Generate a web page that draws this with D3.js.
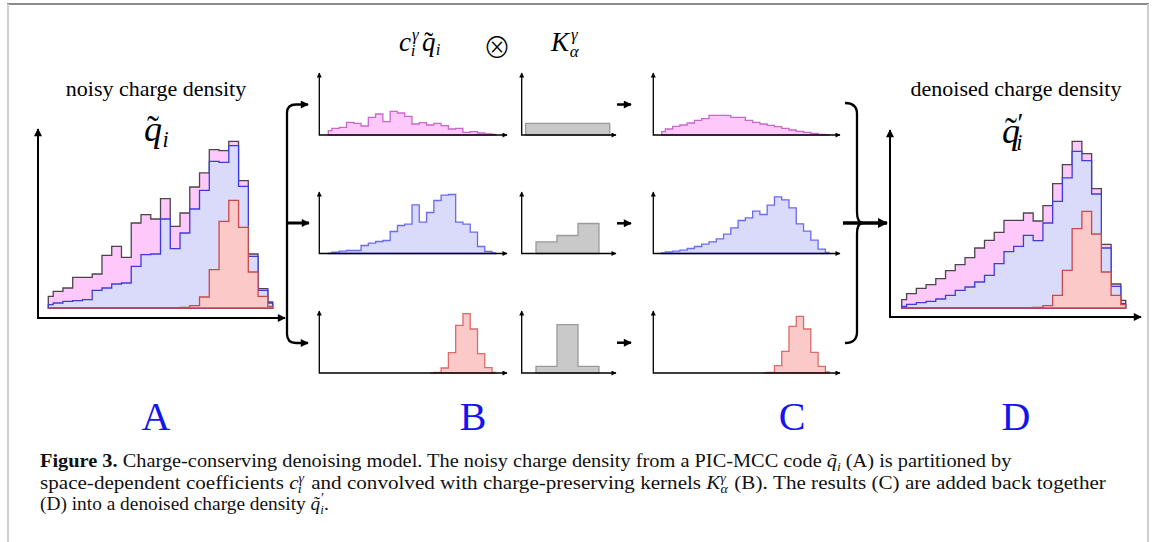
<!DOCTYPE html>
<html>
<head>
<meta charset="utf-8">
<script src="https://cdn.jsdelivr.net/npm/d3@7"></script>
<style>
  body { margin: 0; background: #fff; }
  svg { display: block; }
</style>
</head>
<body>
<div id="area"></div>
<script>
// bin index of every histogram (24 cells, the first and last are half cells)
const bins = d3.range(24);

// A: noisy charge density, stacked partition (total / blue+red / red)
const aTotal = [35, 50, 60, 92, 92, 102, 158, 185, 152, 255, 280, 267, 328, 245, 285, 363, 405, 475, 472, 500, 382, 162, 58, 18];
const aBlue  = [10, 15, 20, 22, 25, 53, 60, 72, 75, 125, 160, 162, 267, 178, 225, 297, 353, 440, 437, 487, 365, 155, 53, 15];
const aRed   = [0, 0, 0, 0, 0, 0, 0, 0, 0, 0, 0, 0, 0, 0, 2, 7, 33, 115, 260, 323, 242, 108, 35, 5];

// B: c_i^gamma * q_i for the three coefficients
const bPink = [13, 20, 23, 38, 35, 27, 53, 63, 40, 71, 66, 56, 33, 37, 30, 35, 28, 18, 20, 8, 10, 6, 3, 2];
const bBlue = [1, 4, 7, 9, 9, 24, 31, 36, 39, 66, 84, 88, 146, 94, 123, 159, 175, 177, 94, 88, 64, 21, 6, 2];
const bRed  = [null, null, null, null, null, null, null, null, null, null, null, null, null, null, 0, 2, 15, 61, 143, 178, 132, 58, 16, 2];

// kernels K_alpha^gamma
const kernelStart = [0.19, 0.68, 0.68];
const kTop = [35, 35, 35, 35];
const kMid = [35, 54, 90];
const kBot = [20, 145, 20];

// C: smoothed parts
const cPink = [10, 18, 26, 30, 36, 44, 49, 59, 59, 59, 53, 53, 44, 38, 33, 29, 25, 20, 15, 11, 8, 5, 2, 1];
const cBlue = [2, 5, 7, 10, 15, 21, 28, 35, 44, 58, 77, 99, 107, 127, 117, 145, 170, 161, 137, 89, 67, 40, 13, 3];
const cRed  = [null, null, null, null, null, null, null, null, null, null, null, null, null, null, 0, 2, 22, 65, 140, 170, 132, 62, 20, 3];

// D: denoised charge density
const dTotal = [25, 43, 59, 70, 88, 112, 130, 151, 180, 203, 227, 263, 263, 285, 261, 307, 373, 430, 500, 463, 358, 191, 72, 23];
const dBlue  = [5, 11, 16, 20, 27, 38, 53, 63, 78, 98, 133, 169, 185, 218, 202, 255, 320, 390, 470, 442, 342, 180, 65, 13];
const dRed   = [0, 0, 0, 0, 0, 0, 0, 0, 0, 0, 0, 0, 0, 0, 2, 7, 38, 113, 238, 290, 222, 108, 38, 10];

const panelLetters = ['A', 'B', 'C', 'D'];

const width = 1167, height = 542;
const pink = { fill: '#ffc8fb', stroke: '#c868c8' },
      blue = { fill: '#dadafb', stroke: '#6a6af2' },
      red  = { fill: '#fcc9c9', stroke: '#dc6a6a' },
      grey = { fill: '#c9c9c9', stroke: '#9a9a9a' };
const serif = "'Liberation Serif', 'DejaVu Serif', serif";

const svg = d3.select('#area').append('svg')
    .attr('width', width)
    .attr('height', height);

// arrow heads
const defs = svg.append('defs');
function marker(id, w, h) {
    defs.append('marker')
        .attr('id', id)
        .attr('viewBox', '0 0 10 10')
        .attr('refX', 9).attr('refY', 5)
        .attr('markerWidth', w).attr('markerHeight', h)
        .attr('markerUnits', 'userSpaceOnUse')
        .attr('orient', 'auto-start-reverse')
        .append('path').attr('d', 'M0,0 L10,5 L0,10 z').attr('fill', '#000');
}
marker('ahS', 6, 5);
marker('ahM', 9, 8);
marker('ahL', 11, 10);

// frame of the figure box
svg.append('line').attr('x1', 7).attr('x2', 1149).attr('y1', 4).attr('y2', 4)
    .attr('stroke', '#8c8c8c').attr('stroke-width', 2);
svg.append('line').attr('x1', 8).attr('x2', 8).attr('y1', 4).attr('y2', height)
    .attr('stroke', '#cfcfcf').attr('stroke-width', 2);
svg.append('line').attr('x1', 1148).attr('x2', 1148).attr('y1', 4).attr('y2', height)
    .attr('stroke', '#cfcfcf').attr('stroke-width', 2);

function axes(ax, ay, xEnd, yTop, sw, mk) {
    svg.append('path')
        .attr('d', `M${ax},${yTop} L${ax},${ay} L${xEnd},${ay}`)
        .attr('fill', 'none').attr('stroke', '#000').attr('stroke-width', sw)
        .attr('marker-start', `url(#${mk})`).attr('marker-end', `url(#${mk})`);
}

function hist(x, y, vals, c, sw, strokeOverride, opacity) {
    const area = d3.area()
        .defined(d => d != null)
        .curve(d3.curveStep)
        .x((d, i) => x(i))
        .y0(y(0))
        .y1(d => y(d));
    svg.append('path')
        .attr('d', area(vals))
        .attr('fill', c.fill)
        .attr('stroke', strokeOverride || c.stroke)
        .attr('stroke-opacity', opacity || 1)
        .attr('stroke-width', sw);
}

// ---- big panels A and D
function bigPanel(p, total, bl, rd) {
    const x = d3.scaleLinear().domain([0, 23]).range([p.x0, p.x1]);
    const y = d3.scaleLinear().domain([0, 500]).range([p.base, p.base - 166.7]);
    hist(x, y, total, pink, 1.3, '#2a2a2a', 0.85);
    hist(x, y, bl, blue, 1.3, '#3c3cdc');
    hist(x, y, rd, red, 1.3, '#c94848');
    axes(p.ax, p.ay, p.xEnd, p.yTop, 2, 'ahM');
}
bigPanel({ x0: 48.3, x1: 272.7, base: 308, ax: 38, ay: 318, xEnd: 285, yTop: 129 }, aTotal, aBlue, aRed);
bigPanel({ x0: 901.7, x1: 1125.7, base: 308, ax: 890, ay: 317, xEnd: 1141, yTop: 130 }, dTotal, dBlue, dRed);

// ---- small panels B, kernels, C
const rowBase = [135, 253.5, 373];
const rowTop = [73, 192, 311];
const colours = [pink, blue, red];

function smallRow(x0, x1, ax, xEnd, series) {
    const x = d3.scaleLinear().domain([0, 23]).range([x0, x1]);
    series.forEach((vals, r) => {
        const y = d3.scaleLinear().domain([0, 180]).range([rowBase[r], rowBase[r] - 60]);
        hist(x, y, vals, colours[r], 1.3);
        axes(ax, rowBase[r], xEnd, rowTop[r], 1.3, 'ahS');
    });
}
smallRow(328.3, 495.7, 319.3, 507, [bPink, bBlue, bRed]);
smallRow(661.7, 829, 653.3, 840, [cPink, cBlue, cRed]);

const kx = d3.scaleLinear().domain([0, 4.5]).range([521.7, 521.7 + 4.5 * 21]);
[kTop, kMid, kBot].forEach((vals, r) => {
    const y = d3.scaleLinear().domain([0, 180]).range([rowBase[r], rowBase[r] - 60]);
    const pts = vals.concat([vals[vals.length - 1]]).map((v, j) => [kernelStart[r] + j, v]);
    const area = d3.area().curve(d3.curveStepAfter)
        .x(d => kx(d[0])).y0(y(0)).y1(d => y(d[1]));
    svg.append('path').attr('d', area(pts))
        .attr('fill', grey.fill).attr('stroke', grey.stroke).attr('stroke-width', 1.3);
    axes(kx(0), rowBase[r], 616, rowTop[r], 1.3, 'ahS');
    // arrow to C
    const ya = [104.5, 223.3, 342.7][r];
    svg.append('line').attr('x1', 617).attr('x2', 631).attr('y1', ya).attr('y2', ya)
        .attr('stroke', '#000').attr('stroke-width', 2.5).attr('marker-end', 'url(#ahM)');
});

// ---- braces
svg.append('path')
    .attr('d', 'M308,104.5 L296,104.5 Q287,104.5 287,113 L287,334 Q287,343 296,343 L308,343')
    .attr('fill', 'none').attr('stroke', '#000').attr('stroke-width', 2.3)
    .attr('marker-start', 'url(#ahM)').attr('marker-end', 'url(#ahM)');
svg.append('line').attr('x1', 287).attr('x2', 309).attr('y1', 223).attr('y2', 223)
    .attr('stroke', '#000').attr('stroke-width', 3).attr('marker-end', 'url(#ahM)');

svg.append('path')
    .attr('d', 'M845,103 Q857,103 857,114 L857,212 Q857,223 863,223 Q857,223 857,234 L857,332 Q857,343 845,343')
    .attr('fill', 'none').attr('stroke', '#000').attr('stroke-width', 2.3);
svg.append('line').attr('x1', 843).attr('x2', 887).attr('y1', 223).attr('y2', 223)
    .attr('stroke', '#000').attr('stroke-width', 3.5).attr('marker-end', 'url(#ahL)');

// ---- labels
function label(x, y, txt, size) {
    return svg.append('text').attr('x', x).attr('y', y).attr('text-anchor', 'middle')
        .style('font-family', serif).style('font-size', size + 'px').text(txt);
}
label(156, 96, 'noisy charge density', 22);
label(1016, 96, 'denoised charge density', 22);

// math: q tilde with subscript (tilde set back over the q inside one text)
function qTilde(t, size, prime) {
    t.append('tspan').text('q');
    t.append('tspan').attr('dx', -size * 0.42).attr('font-style', 'normal').text('\u02DC');
    if (prime) {
        t.append('tspan').attr('font-size', size * 0.75).attr('dx', size * 0.02).attr('dy', -size * 0.3).attr('font-style', 'normal').text('\u2032');
        t.append('tspan').attr('font-size', size * 0.62).attr('dx', -size * 0.2).attr('dy', size * 0.5).text('i');
    } else {
        t.append('tspan').attr('font-size', size * 0.62).attr('dx', size * 0.1).attr('dy', size * 0.16).text('i');
    }
}
function mathText(x, y, size) {
    return svg.append('text').attr('x', x).attr('y', y)
        .style('font-family', serif).style('font-size', size + 'px').style('font-style', 'italic');
}
qTilde(mathText(144, 141, 36), 36, false);
qTilde(mathText(1002, 143, 36), 36, true);

// c_i^gamma q_i  (x)  K_alpha^gamma
const ct = mathText(399, 51, 27);
ct.append('tspan').text('c');
ct.append('tspan').attr('font-size', 17).attr('dx', 1).attr('dy', -11).text('\u03B3');
ct.append('tspan').attr('font-size', 17).attr('dx', -8).attr('dy', 16).text('i');
qTilde(mathText(422, 51, 27), 27, false);
label(497, 58, '\u2297', 28)
    .style('font-family', "'Noto Sans CJK SC', 'DejaVu Sans', sans-serif")
    .style('font-weight', 200);
const kt = mathText(551, 51, 27);
kt.append('tspan').text('K');
kt.append('tspan').attr('font-size', 17).attr('dx', 2).attr('dy', -11).text('\u03B3');
kt.append('tspan').attr('font-size', 17).attr('dx', -8).attr('dy', 17).text('\u03B1');

// panel letters
const letterX = [156, 473, 792, 1016];
panelLetters.forEach((l, i) => {
    svg.append('text').attr('x', letterX[i]).attr('y', 430).attr('text-anchor', 'middle')
        .style('font-family', serif).style('font-size', '40px').attr('fill', '#1414f0').text(l);
});

// ---- caption
const capY = [467, 489, 510];
const capW = [972, 1073, 292];
const lines = capY.map(y => svg.append('text').attr('x', 0).attr('y', 0)
    .attr('transform', `translate(40,${y})`)
    .style('font-family', serif).style('font-size', '19.5px').attr('fill', '#111'));

let l = lines[0];
l.append('tspan').attr('font-weight', 'bold').text('Figure 3.');
l.append('tspan').text(' Charge-conserving denoising model. The noisy charge density from a PIC-MCC code ');
l.append('tspan').attr('font-style', 'italic').text('q\u0303');
l.append('tspan').attr('font-style', 'italic').attr('font-size', 13).attr('dy', 4).text('i');
l.append('tspan').attr('dy', -4).text(' (A) is partitioned by');

l = lines[1];
l.append('tspan').text('space-dependent coefficients ');
l.append('tspan').attr('font-style', 'italic').text('c');
l.append('tspan').attr('font-style', 'italic').attr('font-size', 13).attr('dy', -7).text('\u03B3');
l.append('tspan').attr('font-style', 'italic').attr('font-size', 13).attr('dx', -6).attr('dy', 11).text('i');
l.append('tspan').attr('dx', 4).attr('dy', -4).text(' and convolved with charge-preserving kernels ');
l.append('tspan').attr('font-style', 'italic').text('K');
l.append('tspan').attr('font-style', 'italic').attr('font-size', 13).attr('dy', 4).text('\u03B1');
l.append('tspan').attr('font-style', 'italic').attr('font-size', 13).attr('dx', -7).attr('dy', -11).text('\u03B3');
l.append('tspan').attr('dx', 3).attr('dy', 7).text(' (B). The results (C) are added back together');

l = lines[2];
l.append('tspan').text('(D) into a denoised charge density ');
l.append('tspan').attr('font-style', 'italic').text('q\u0303');
l.append('tspan').attr('font-style', 'italic').attr('font-size', 13).attr('dy', 4).text('i');
l.append('tspan').attr('font-size', 14).attr('dx', -3).attr('dy', -11).text('\u2032');
l.append('tspan').attr('dy', 7).text('.');

// squeeze lines to the width of the original typesetting
lines.forEach((t, i) => {
    const f = capW[i] / t.node().getComputedTextLength();
    t.attr('transform', `translate(40,${capY[i]}) scale(${f},1)`);
});
</script>
</body>
</html>
